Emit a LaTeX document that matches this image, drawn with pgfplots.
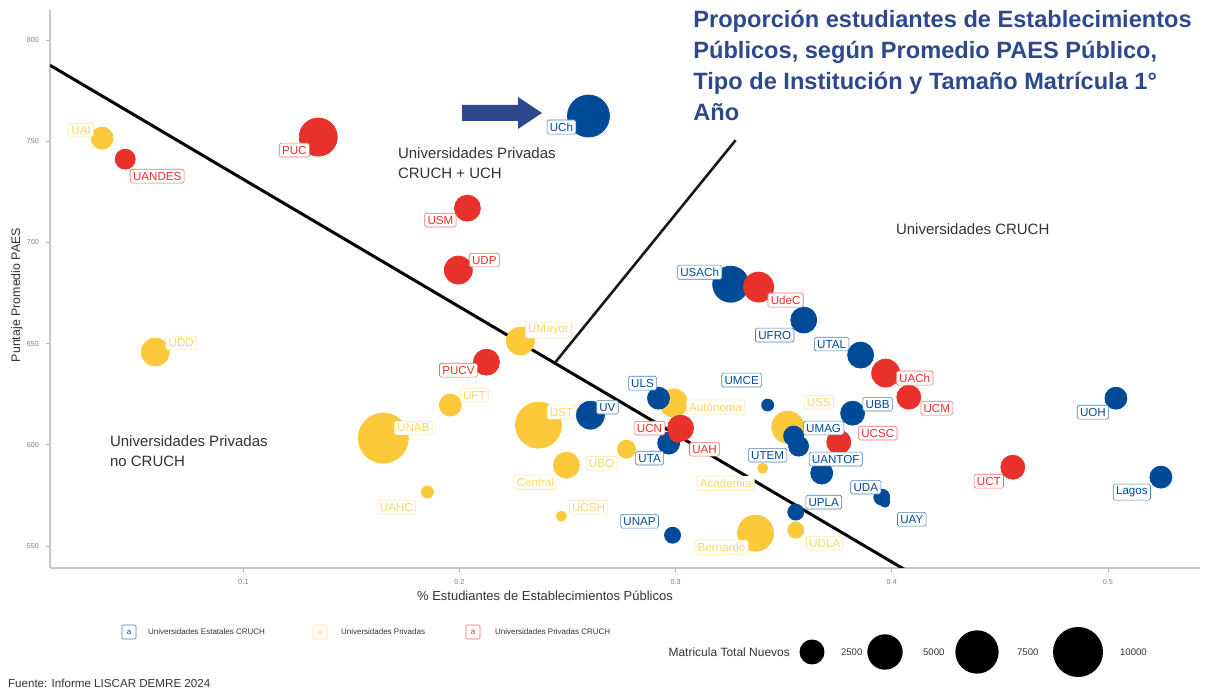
\documentclass[border=0pt]{standalone}
\usepackage{fontspec}
\setmainfont{Liberation Sans}
\usepackage{pgfplots}
\usepackage{pgfplotstable}
\pgfplotsset{compat=1.18}

\definecolor{cblue}{RGB}{0,75,152}
\definecolor{cred}{RGB}{232,49,42}
\definecolor{cyel}{RGB}{251,201,58}
\definecolor{ctitle}{RGB}{46,72,140}
\definecolor{ctxt}{RGB}{51,51,51}

% x = % estudiantes de establecimientos publicos, y = puntaje PAES, n = matricula nuevos
% dx, dy = offset of the label box (px)
\pgfplotstableread{
x y n dx dy lab
0.2597 762.4 7056 -27 -11 UCh
0.3255 679.3 5184 -31 12 USACh
0.3593 661.6 2704 -29 -15 UFRO
0.3856 644.3 2704 -29 11 UTAL
0.3426 619.6 576 -26 25 UMCE
0.3819 615.6 2304 25 9 UBB
0.3546 604.3 1600 30 8 UMAG
0.3569 599.3 1600 -31 -9 UTEM
0.3676 586.0 1936 14 14 UANTOF
0.2921 623.0 1936 -16 15 ULS
0.2606 614.6 3136 17 8 UV
0.2968 600.8 1936 -19 -15 UTA
0.2986 555.3 1024 -33 14 UNAP
0.3556 566.7 1024 28 10 UPLA
0.3954 574.1 1024 -16 10 UDA
0.3968 571.6 400 27 -17 UAY
0.5037 623.0 1936 -23 -14 UOH
0.5245 584.0 1936 -29 -15 Lagos
}\estatales

\pgfplotstableread{
x y n dx dy lab
0.0347 751.5 1936 -21 8 UAI
0.0593 645.8 3136 26 9 UDD
0.1648 603.3 10000 30 10 UNAB
0.1958 619.6 1936 24 10 UFT
0.2366 609.7 8464 23 13 UST
0.2282 651.2 3136 28 11 UMayor
0.2773 597.8 1296 -25 -14 UBO
0.2495 589.9 2704 -31 -17 Central
0.1852 576.6 576 -31 -15 UAHC
0.2472 564.7 400 27 9 UCSH
0.2991 620.6 3136 42 -4 Autónoma
0.3519 608.7 4096 31 25 USS
0.3403 588.4 400 -37 -15 Academia
0.3370 556.3 5184 -34 -14 Bernardo
0.3556 557.8 1024 29 -13 UDLA
}\privadas

\pgfplotstableread{
x y n dx dy lab
0.1347 752.0 5776 -24 -13 PUC
0.0454 741.1 1600 32 -17 UANDES
0.2037 716.9 2704 -27 -12 USM
0.1995 686.3 3136 26 10 UDP
0.3384 677.9 3600 27 -13 UdeC
0.2125 640.8 2704 -28 -8 PUCV
0.3972 635.4 3136 29 -5 UACh
0.4079 623.5 2304 28 -11 UCM
0.3755 601.3 2304 39 9 UCSC
0.3023 608.2 2704 -31 0 UCN
0.3009 605.2 1024 27 -15 UAH
0.4560 588.9 2304 -24 -14 UCT
}\privcruch

\pgfplotsset{
  bubble/.style={scatter, only marks, mark=*,
    scatter/use mapped color={draw=#1, fill=#1},
    visualization depends on={0.125*sqrt(\thisrow{n}) \as \rad},
    scatter/@pre marker code/.append style={/tikz/mark size=\rad pt}},
  lbl/.style n args={3}{only marks, mark=none, nodes near coords,
    point meta=explicit symbolic,
    visualization depends on={\thisrow{dx} \as \dx},
    visualization depends on={\thisrow{dy} \as \dy},
    every node near coord/.append style={anchor=center,
      xshift=\dx*0.5pt, yshift=\dy*0.5pt,
      font=\fontsize{5.8}{7}\selectfont, fill=white, draw=#1, text=#2,
      rounded corners=0.8pt, inner sep=1.4pt, line width=#3}},
}

\begin{document}
\begin{tikzpicture}
\useasboundingbox (0,0) rectangle (605.5pt,345pt);
\begin{axis}[
  at={(25pt,61pt)}, anchor=south west,
  scale only axis, width=575pt, height=279pt,
  xmin=0.0106, xmax=0.5426, ymin=539.1, ymax=814.8,
  axis x line*=bottom, axis y line*=left,
  axis line style={-, draw=black!22, line width=1pt},
  xtick={0.1,0.2,0.3,0.4,0.5}, ytick={550,600,650,700,750,800},
  tick style={draw=black!30, line width=0.4pt},
  major tick length=2pt, tick align=outside,
  ticklabel style={font=\fontsize{3.6}{4}\selectfont, text=black!50},
  /pgf/number format/assume math mode=true,
  xticklabel style={/pgf/number format/fixed, /pgf/number format/precision=1},
  clip=true,
]
\addplot[bubble=cyel] table {\privadas};
\addplot[bubble=cblue] table {\estatales};
\addplot[bubble=cred] table {\privcruch};

\addplot[lbl={cyel!45!white}{cyel!75!white}{0.3pt}] table[meta=lab] {\privadas};
\addplot[lbl={cblue!70!white}{cblue}{0.3pt}] table[meta=lab] {\estatales};
\addplot[lbl={cred!70!white}{cred}{0.3pt}] table[meta=lab] {\privcruch};

\draw[black, line width=1.5pt] (axis cs:0.0106,787.5) -- (axis cs:0.4065,538);
\draw[black!90, line width=1.3pt] (axis cs:0.2444,640.8) -- (axis cs:0.3278,750.5);
\end{axis}

\begin{scope}[shift={(0pt,345pt)}, x=0.5pt, y=-0.5pt]
  % title
  \node[anchor=north west, align=left, text=ctitle, inner sep=0pt,
        font=\fontsize{11.8}{15.5}\selectfont\bfseries] at (693,10)
    {Proporción estudiantes de Establecimientos\\
     Públicos, según Promedio PAES Público,\\
     Tipo de Institución y Tamaño Matrícula 1°\\
     Año};
  % arrow
  \fill[ctitle] (462,105) -- (518,105) -- (518,97) -- (542,113)
     -- (518,129) -- (518,121) -- (462,121) -- cycle;
  % region annotations
  \begin{scope}[every node/.style={text=ctxt, font=\fontsize{7.5}{10}\selectfont, align=left}]
    \node[anchor=north west] at (391,141) {Universidades Privadas\\CRUCH + UCH};
    \node[anchor=west] at (889,229) {Universidades CRUCH};
    \node[anchor=north west] at (103,429) {Universidades Privadas\\no CRUCH};
  \end{scope}
  % axis titles
  \node[font=\fontsize{6.5}{7}\selectfont, text=ctxt] at (545,596)
    {\% Estudiantes de Establecimientos Públicos};
  \node[font=\fontsize{6.2}{7}\selectfont, text=ctxt, rotate=90] at (17,295)
    {Puntaje Promedio PAES};
  % colour legend
  \begin{scope}[every node/.style={font=\fontsize{4}{5}\selectfont, text=ctxt, anchor=west}]
    \node[draw=cblue!70!white, text=cblue, fill=white, minimum size=7pt, inner sep=0pt,
          line width=0.3pt, anchor=center, rounded corners=0.5pt] at (129,632) {a};
    \node at (141,632) {Universidades Estatales CRUCH};
    \node[draw=cyel!60!white, text=cyel!80!white, fill=white, minimum size=7pt, inner sep=0pt,
          line width=0.3pt, anchor=center, rounded corners=0.5pt] at (320,632) {a};
    \node at (334,632) {Universidades Privadas};
    \node[draw=cred!70!white, text=cred, fill=white, minimum size=7pt, inner sep=0pt,
          line width=0.3pt, anchor=center, rounded corners=0.5pt] at (473,632) {a};
    \node at (488,632) {Universidades Privadas CRUCH};
  \end{scope}
  % size legend
  \node[anchor=east, font=\fontsize{6}{7}\selectfont, text=ctxt] at (797,652) {Matricula Total Nuevos};
  \fill[black] (812,652) circle[radius=12.5];
  \fill[black] (885,652) circle[radius=17.7];
  \fill[black] (977,652) circle[radius=21.65];
  \fill[black] (1078,652) circle[radius=25];
  \begin{scope}[every node/.style={anchor=west, font=\fontsize{4.8}{5}\selectfont, text=ctxt}]
    \node at (834,652) {2500};
    \node at (916,652) {5000};
    \node at (1010,652) {7500};
    \node at (1113,652) {10000};
  \end{scope}
  % source
  \node[anchor=west, font=\fontsize{5.8}{7}\selectfont, text=ctxt] at (1,683)
    {Fuente: Informe LISCAR DEMRE 2024};
\end{scope}
\end{tikzpicture}
\end{document}
